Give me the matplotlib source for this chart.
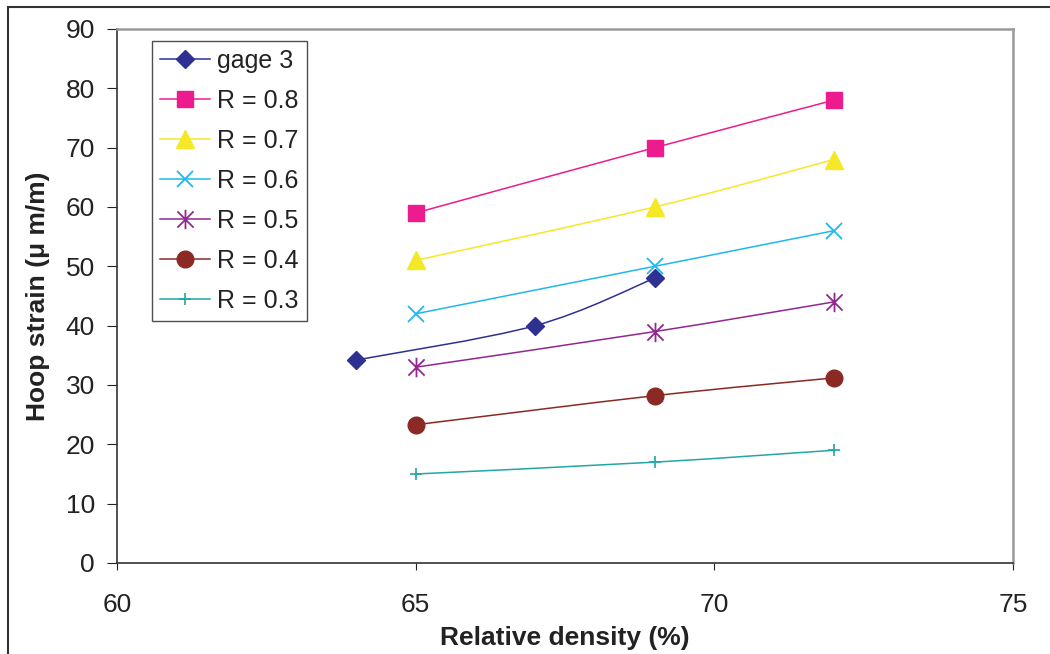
import matplotlib
matplotlib.use("Agg")
import matplotlib.pyplot as plt
import numpy as np
from matplotlib.path import Path
from matplotlib.patches import PathPatch, Rectangle
from matplotlib.lines import Line2D

plt.rcParams['font.family'] = ['Liberation Sans', 'DejaVu Sans']

# Data
gage_density = [64, 67, 69]
gage_strain = [34.2, 40, 48]

r_density = [65, 69, 72]
r_labels = ["R = 0.8", "R = 0.7", "R = 0.6", "R = 0.5", "R = 0.4", "R = 0.3"]
r08 = [59, 70, 78]
r07 = [51, 60, 68]
r06 = [42, 50, 56]
r05 = [33, 39, 44]
r04 = [23.3, 28.2, 31.2]
r03 = [15, 17, 19]

x_ticks = [60, 65, 70, 75]
y_ticks = [0, 10, 20, 30, 40, 50, 60, 70, 80, 90]

# Asterisk marker: an x with a vertical stroke
star_path = Path(
    [(-0.5, -0.5), (0.5, 0.5), (-0.5, 0.5), (0.5, -0.5), (0, -0.6), (0, 0.6)],
    [Path.MOVETO, Path.LINETO, Path.MOVETO, Path.LINETO, Path.MOVETO, Path.LINETO],
)

series = [
    ("gage 3", gage_density, gage_strain, "#2E3192", dict(marker="D", ms=9, mfc="#2E3192", mec="#2E3192")),
    (r_labels[0], r_density, r08, "#EC1C8E", dict(marker="s", ms=12, mfc="#EC1C8E", mec="#EC1C8E")),
    (r_labels[1], r_density, r07, "#F5E826", dict(marker="^", ms=13, mfc="#F5E826", mec="#F5E826")),
    (r_labels[2], r_density, r06, "#21B8EE", dict(marker="x", ms=12, mfc="none", mec="#21B8EE", mew=1.3)),
    (r_labels[3], r_density, r05, "#92278F", dict(marker=star_path, ms=14, mfc="none", mec="#92278F", mew=1.3)),
    (r_labels[4], r_density, r04, "#8B2A24", dict(marker="o", ms=12, mfc="#8B2A24", mec="#8B2A24")),
    (r_labels[5], r_density, r03, "#22A6A6", dict(marker="+", ms=8, mfc="none", mec="#22A6A6", mew=1.2)),
]


def smooth_path(xs, ys):
    """Cardinal (Catmull-Rom style) Bezier curve through the points."""
    pts = np.column_stack([xs, ys]).astype(float)
    n = len(pts)
    verts = [tuple(pts[0])]
    codes = [Path.MOVETO]
    for i in range(n - 1):
        p_prev = pts[i - 1] if i > 0 else pts[i]
        p0 = pts[i]
        p1 = pts[i + 1]
        p_next = pts[i + 2] if i + 2 < n else pts[i + 1]
        c1 = p0 + (p1 - p_prev) / 6.0
        c2 = p1 - (p_next - p0) / 6.0
        verts += [tuple(c1), tuple(c2), tuple(p1)]
        codes += [Path.CURVE4] * 3
    return Path(verts, codes)


fig = plt.figure(figsize=(10.5, 6.54), dpi=100)
ax = fig.add_axes([117 / 1050, 1 - 563 / 654, (1013 - 117) / 1050, (563 - 29) / 654])

handles = []
for label, xs, ys, color, mk in series:
    ax.add_patch(PathPatch(smooth_path(xs, ys), facecolor="none", edgecolor=color, lw=1.1, zorder=2))
    ax.plot(xs, ys, linestyle="none", zorder=3, **mk)
    handles.append(Line2D([], [], color=color, lw=1.1, **mk))

ax.set_xlim(60, 75)
ax.set_ylim(0, 90)
ax.set_xticks(x_ticks)
ax.set_yticks(y_ticks)
ax.tick_params(axis="both", direction="out", labelsize=19, colors="#222222")
ax.tick_params(axis="y", length=7, pad=9)
ax.tick_params(axis="x", length=5, pad=16.5)

for side in ("left", "bottom"):
    ax.spines[side].set_color("#333333")
    ax.spines[side].set_linewidth(1.2)
for side in ("top", "right"):
    ax.spines[side].set_color("#999999")
    ax.spines[side].set_linewidth(1.8)

ax.set_xlabel("Relative density (%)", fontsize=19, fontweight="bold", color="#222222", labelpad=6.5)
ax.set_ylabel("Hoop strain (\u03bc m/m)", fontsize=19, fontweight="bold", color="#222222", labelpad=11)

leg = ax.legend(handles=handles, labels=[s[0] for s in series], loc="upper left",
                bbox_to_anchor=((152 - 117) / 896, 1 - (41 - 29) / 534),
                fontsize=18, frameon=True, fancybox=False, borderpad=0.32,
                labelspacing=0.64, handlelength=2.0, handletextpad=0.28,
                borderaxespad=0.0)
leg.get_frame().set_edgecolor("#222222")
leg.get_frame().set_linewidth(1.0)
for t in leg.get_texts():
    t.set_color("#222222")

# Outer frame around the whole chart
fig.patches.append(Rectangle((8 / 1050, -0.5), 2.0, 1.5 - 7 / 654, transform=fig.transFigure,
                             fill=False, edgecolor="#333333", lw=1.5))

fig.savefig("out.png", dpi=100)
